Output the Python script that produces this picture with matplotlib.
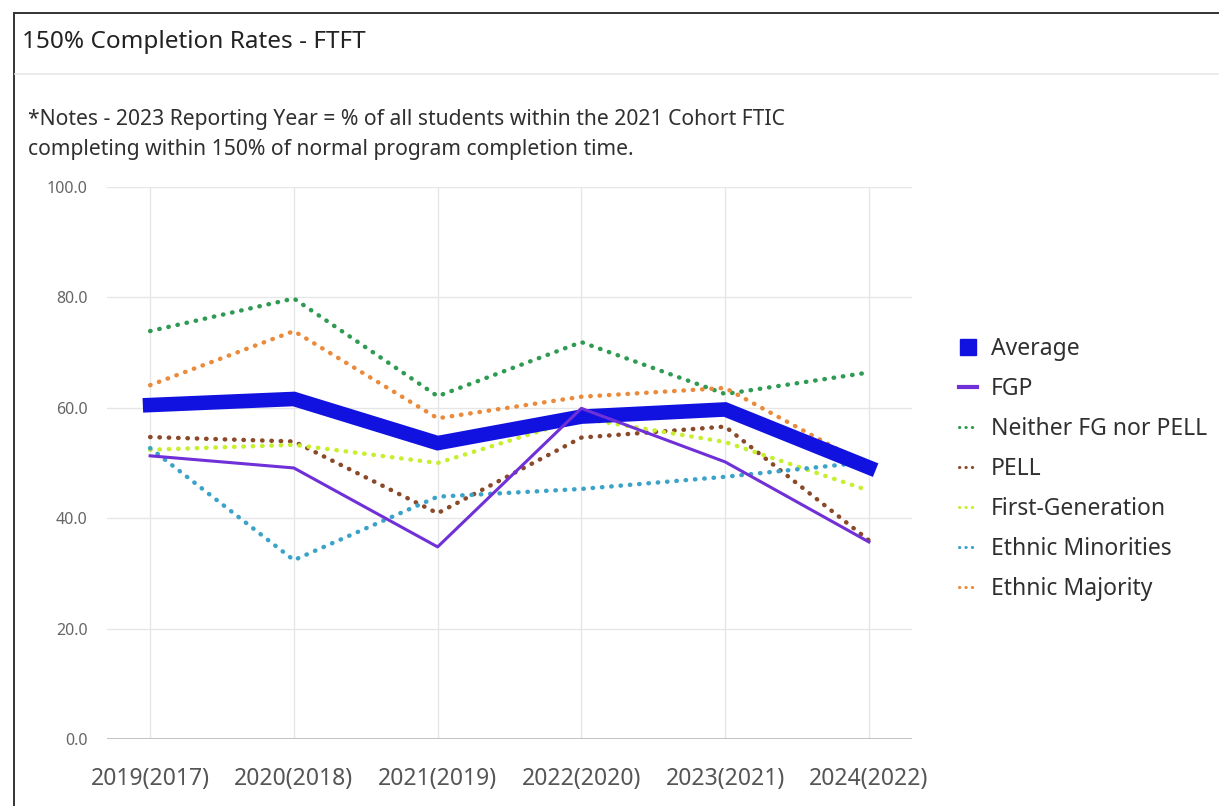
import matplotlib
matplotlib.use("Agg")

import numpy as np
from matplotlib import pyplot as plt
from matplotlib.lines import Line2D
from matplotlib.patches import Rectangle

plt.rcParams['font.family'] = ['Noto Sans', 'DejaVu Sans']

years = ["2019(2017)", "2020(2018)", "2021(2019)", "2022(2020)", "2023(2021)", "2024(2022)"]

average = [60.5, 61.6, 53.6, 58.4, 59.7, 49.2]
fgp = [51.3, 49.1, 34.8, 59.9, 50.2, 35.7]
neither = [73.9, 79.8, 62.1, 71.9, 62.5, 66.4]
pell = [54.7, 53.9, 40.9, 54.6, 56.6, 36.0]
first_gen = [52.4, 53.3, 50.0, 58.1, 53.8, 45.0]
minorities = [52.7, 32.4, 43.9, 45.3, 47.5, 50.2]
majority = [64.1, 73.9, 58.1, 62.0, 63.6, 49.4]

# colours
c_avg = "#1212e0"
c_fgp = "#7030d8"
c_neither = "#2e9a52"
c_pell = "#8a4a2a"
c_first = "#c6ef2e"
c_minor = "#3ba2c8"
c_major = "#ea8a3a"

dotted = (0, (0.1, 2.0))


def main():
    fig = plt.figure(figsize=(12.19, 8.06), dpi=100)

    # card frame and header separator
    fig.patches.append(Rectangle((14 / 1219, -0.05), 1.1, (806 - 13) / 806 + 0.05,
                                 transform=fig.transFigure, fill=False,
                                 edgecolor="#333333", linewidth=1.4))
    fig.lines.append(Line2D([15 / 1219, 1], [1 - 74 / 806, 1 - 74 / 806],
                            transform=fig.transFigure, color="#e8e8e8", lw=1.2))

    fig.text(22 / 1219, 1 - 42 / 806, "150% Completion Rates - FTFT",
             fontsize=17.5, color="#222222", va="center", ha="left")
    fig.text(28 / 1219, 1 - 119 / 806,
             "*Notes - 2023 Reporting Year = % of all students within the 2021 Cohort FTIC",
             fontsize=15.2, color="#303030", va="center", ha="left")
    fig.text(28 / 1219, 1 - 150 / 806,
             "completing within 150% of normal program completion time.",
             fontsize=15.2, color="#303030", va="center", ha="left")

    ax = fig.add_axes([107 / 1219, 67 / 806, (912 - 107) / 1219, (739 - 187) / 806])
    x = np.arange(len(years))

    for vals, col in [(neither, c_neither), (pell, c_pell), (first_gen, c_first),
                      (minorities, c_minor), (majority, c_major)]:
        ax.plot(x, vals, color=col, lw=3.2, linestyle=dotted, dash_capstyle="round", zorder=3)
    ax.plot(x, average, color=c_avg, lw=10.5, solid_joinstyle="miter", zorder=4)
    ax.plot(x, fgp, color=c_fgp, lw=2.2, zorder=5)

    ax.set_xlim(-0.3, 5.3)
    ax.set_ylim(0, 100)
    ticks = [0, 20, 40, 60, 80, 100]
    ax.set_yticks(ticks)
    ax.set_yticklabels(["%.1f" % v for v in ticks])
    ax.set_xticks(x)
    ax.set_xticklabels(years)
    ax.tick_params(axis="y", length=0, pad=14, labelsize=11.5, labelcolor="#666666")
    ax.tick_params(axis="x", length=0, pad=20, labelsize=16.5, labelcolor="#555555")

    ax.grid(True, color="#e6e6e6", lw=1)
    ax.set_axisbelow(True)
    for s in ax.spines.values():
        s.set_visible(False)
    ax.axhline(0, color="#bdbdbd", lw=2, zorder=2)

    handles = [
        Line2D([], [], marker="s", markersize=11, color=c_avg, linestyle="none"),
        Line2D([], [], color=c_fgp, lw=3),
        Line2D([], [], color=c_neither, lw=2.2, linestyle=dotted, dash_capstyle="round"),
        Line2D([], [], color=c_pell, lw=2.2, linestyle=dotted, dash_capstyle="round"),
        Line2D([], [], color=c_first, lw=2.2, linestyle=dotted, dash_capstyle="round"),
        Line2D([], [], color=c_minor, lw=2.2, linestyle=dotted, dash_capstyle="round"),
        Line2D([], [], color=c_major, lw=2.2, linestyle=dotted, dash_capstyle="round"),
    ]
    labels = ["Average", "FGP", "Neither FG nor PELL", "PELL", "First-Generation",
              "Ethnic Minorities", "Ethnic Majority"]
    fig.legend(handles, labels, loc="upper left",
               bbox_to_anchor=(938 / 1219, 1 - 316 / 806), frameon=False,
               fontsize=16.5, handlelength=0.8, handletextpad=0.6,
               labelspacing=0.7, labelcolor="#303030")

    plt.savefig("out.png", dpi=100)


if __name__ == '__main__':
    main()
